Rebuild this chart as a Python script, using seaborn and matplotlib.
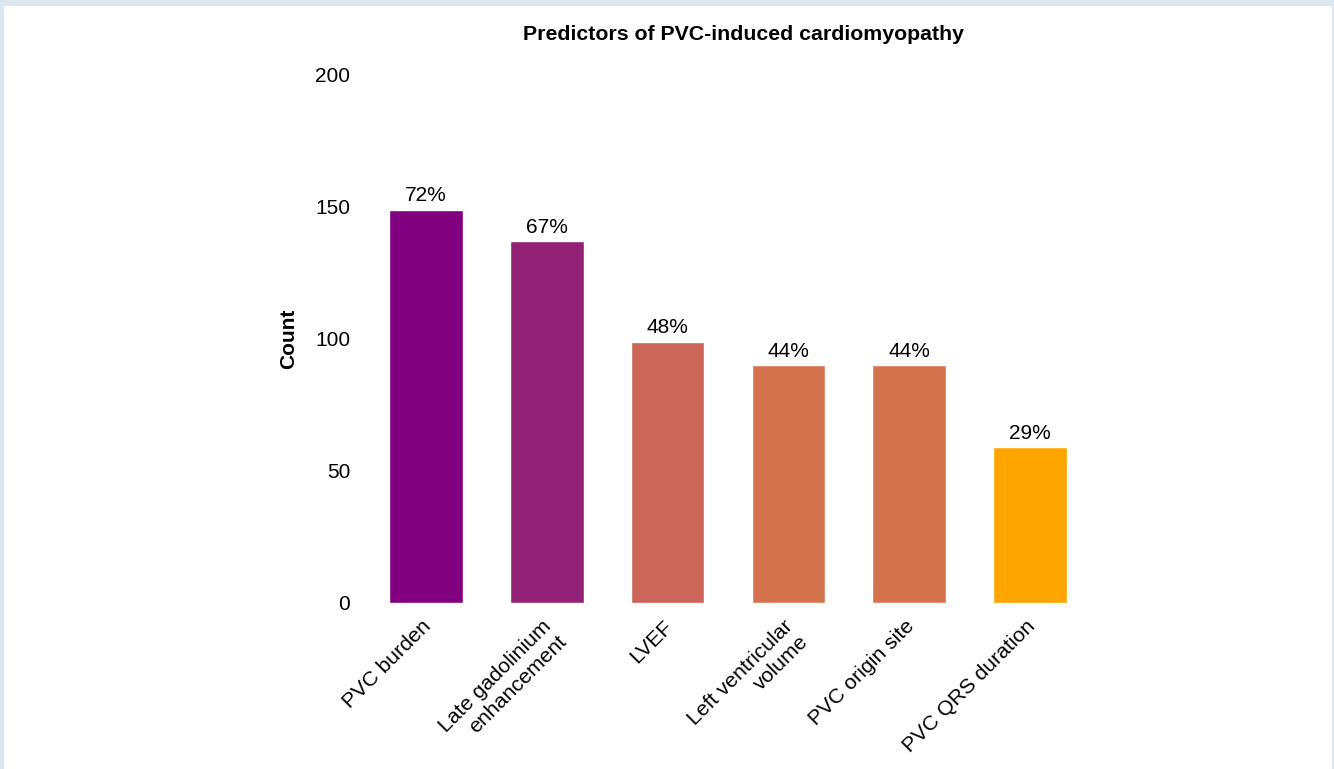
import matplotlib
matplotlib.use("Agg")
import matplotlib.pyplot as plt
import matplotlib.transforms as mtransforms
from matplotlib.patches import Rectangle
import seaborn as sns
import pandas as pd

# ── data ──
predictors = ["PVC burden", "Late gadolinium\nenhancement", "LVEF",
              "Left ventricular\nvolume", "PVC origin site", "PVC QRS duration"]
counts = [149, 137, 99, 90, 90, 59]
pct_labels = ["72%", "67%", "48%", "44%", "44%", "29%"]
bar_colors = ["#800080", "#912275", "#CC6658", "#D6734F", "#D6734F", "#FFA500"]

df = pd.DataFrame({"Predictor": predictors, "Count": counts})

# ── style ──
sns.set_style("white")
plt.rcParams["font.family"] = ["Liberation Sans", "DejaVu Sans"]
plt.rcParams["text.color"] = "black"
plt.rcParams["axes.labelcolor"] = "black"
plt.rcParams["xtick.color"] = "black"
plt.rcParams["ytick.color"] = "black"

fig = plt.figure(figsize=(13.34, 7.69), dpi=100)
fig.patch.set_facecolor("#DDE7F0")
# white panel inside the light blue frame
fig.patches.append(Rectangle((4 / 1334, 0), 1328 / 1334, 763 / 769,
                             transform=fig.transFigure, facecolor="white",
                             edgecolor="none", zorder=-10))

ax = fig.add_axes([0.274, 0.2159, 0.5435, 0.6866])
ax.set_facecolor("none")

sns.barplot(data=df, x="Predictor", y="Count", hue="Predictor",
            palette=bar_colors, width=0.61, legend=False, ax=ax,
            saturation=1)

for cont, lab in zip(ax.containers, pct_labels):
    ax.bar_label(cont, labels=[lab], padding=3, fontsize=15)

ax.set_ylim(0, 200)
ax.set_yticks([0, 50, 100, 150, 200])
ax.set_xlim(-0.5, 5.5)
ax.tick_params(axis="y", labelsize=15, length=0, pad=11)
ax.tick_params(axis="x", labelsize=15.3, length=0, pad=10)
shift = mtransforms.ScaledTranslation(-5 / 100, 0, fig.dpi_scale_trans)
for t in ax.get_xticklabels():
    t.set_rotation(45)
    t.set_ha("right")
    t.set_rotation_mode("anchor")
    t.set_transform(t.get_transform() + shift)

ax.set_xlabel("")
ax.set_ylabel("Count", fontsize=15, fontweight="bold", labelpad=12)
sns.despine(ax=ax, left=True, bottom=True)

fig.text(0.557, 0.955, "Predictors of PVC-induced cardiomyopathy",
         ha="center", va="center", fontsize=15.3, fontweight="bold")

fig.savefig("out.png", dpi=100, facecolor=fig.get_facecolor())
